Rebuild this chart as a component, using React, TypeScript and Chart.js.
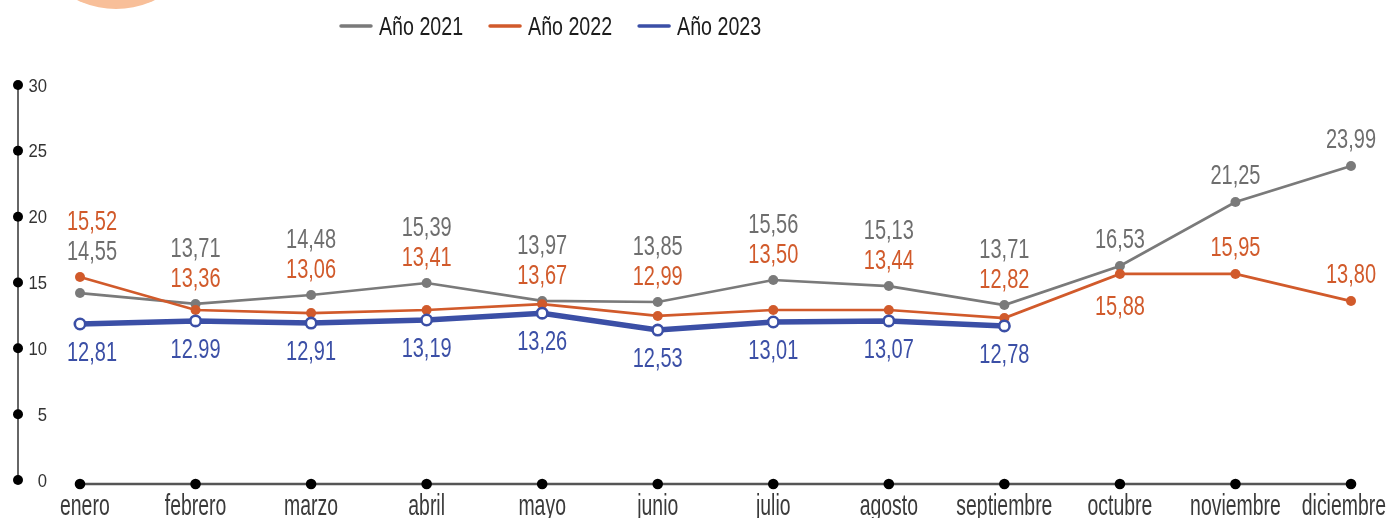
import React, { useEffect, useRef } from "react";
import { Chart, registerables } from "chart.js";

Chart.register(...registerables);

const months = ["enero", "febrero", "marzo", "abril", "mayo", "junio", "julio", "agosto", "septiembre", "octubre", "noviembre", "diciembre"];
const seriesNames = ["Año 2021", "Año 2022", "Año 2023"];

const values2021 = [14.2, 13.37, 14.05, 14.96, 13.6, 13.52, 15.19, 14.73, 13.29, 16.25, 21.11, 23.85];
const values2022 = [15.42, 12.91, 12.68, 12.91, 13.35, 12.46, 12.91, 12.91, 12.3, 15.65, 15.65, 13.59];
const values2023 = [11.85, 12.08, 11.92, 12.15, 12.67, 11.39, 12.0, 12.08, 11.7];

const labels2021 = ["14,55", "13,71", "14,48", "15,39", "13,97", "13,85", "15,56", "15,13", "13,71", "16,53", "21,25", "23,99"];
const labels2022 = ["15,52", "13,36", "13,06", "13,41", "13,67", "12,99", "13,50", "13,44", "12,82", "15,88", "15,95", "13,80"];
const labels2023 = ["12,81", "12.99", "12,91", "13,19", "13,26", "12,53", "13,01", "13,07", "12,78"];

// label placement: stack1 / stack2 = rows above the higher point of 2021/2022; own = above own point; below = under own point
const place2021 = ["stack1", "stack2", "stack2", "stack2", "stack2", "stack2", "stack2", "stack2", "stack2", "own", "own", "own"];
const place2022 = ["stack2", "stack1", "stack1", "stack1", "stack1", "stack1", "stack1", "stack1", "stack1", "below", "own", "own"];

const yTicks = [0, 5, 10, 15, 20, 25, 30];

const GREY = "#7a7a7a";
const ORANGE = "#d15a2b";
const BLUE = "#3b4fa6";
const PEACH = "#f8bf99";
const FONT = '"Liberation Sans", Arial, sans-serif';

function drawText(ctx: CanvasRenderingContext2D, text: string, x: number, y: number, size: number, color: string, xs: number, align: string) {
  ctx.save();
  ctx.font = `${size}px ${FONT}`;
  ctx.fillStyle = color;
  ctx.textAlign = "left";
  ctx.textBaseline = "alphabetic";
  const w = ctx.measureText(text).width * xs;
  const left = align === "center" ? x - w / 2 : align === "right" ? x - w : x;
  ctx.translate(left, y);
  ctx.scale(xs, 1);
  ctx.fillText(text, 0, 0);
  ctx.restore();
  return w;
}

function textW(ctx: CanvasRenderingContext2D, text: string, size: number, xs: number) {
  ctx.save();
  ctx.font = `${size}px ${FONT}`;
  const w = ctx.measureText(text).width * xs;
  ctx.restore();
  return w;
}

const customPlugin = {
  id: "customDraw",
  beforeDatasetsDraw(chart: any) {
    const ctx: CanvasRenderingContext2D = chart.ctx;
    const x = chart.scales.x;
    const y = chart.scales.y;
    const area = chart.chartArea;
    const W = chart.width;

    // decorative peach disc at top-left corner
    ctx.save();
    ctx.fillStyle = PEACH;
    ctx.beginPath();
    ctx.arc(116, -80, 89, 0, Math.PI * 2);
    ctx.fill();
    ctx.restore();

    // Y axis (detached, to the left)
    const axX = area.left - 62;
    ctx.save();
    ctx.strokeStyle = "#666";
    ctx.lineWidth = 2;
    ctx.beginPath();
    ctx.moveTo(axX, y.getPixelForValue(yTicks[yTicks.length - 1]));
    ctx.lineTo(axX, y.getPixelForValue(yTicks[0]));
    ctx.stroke();
    ctx.fillStyle = "#000";
    yTicks.forEach((t) => {
      const py = y.getPixelForValue(t);
      ctx.beginPath();
      ctx.arc(axX, py, 5, 0, Math.PI * 2);
      ctx.fill();
      drawText(ctx, String(t), axX + 29, py + 6.6, 18.5, "#333", 0.9, "right");
    });
    ctx.restore();

    // X axis line with dots
    const axY = area.bottom + 4;
    ctx.save();
    ctx.strokeStyle = "#555";
    ctx.lineWidth = 2.5;
    ctx.beginPath();
    ctx.moveTo(x.getPixelForValue(0), axY);
    ctx.lineTo(x.getPixelForValue(months.length - 1), axY);
    ctx.stroke();
    ctx.fillStyle = "#000";
    months.forEach((m, i) => {
      const px = x.getPixelForValue(i);
      ctx.beginPath();
      ctx.arc(px, axY, 5.3, 0, Math.PI * 2);
      ctx.fill();
      const w = textW(ctx, m, 29, 0.67);
      let cx = Math.max(px, area.left - 20 + w / 2);
      cx = Math.min(cx, W - 4 - w / 2);
      drawText(ctx, m, cx, axY + 31, 29, "#3a3a3a", 0.67, "center");
    });
    ctx.restore();

    // Legend
    const colors = [GREY, ORANGE, BLUE];
    let lx = 340;
    const ly = 26;
    seriesNames.forEach((name, i) => {
      ctx.save();
      ctx.strokeStyle = colors[i];
      ctx.lineWidth = 3.5;
      ctx.lineCap = "round";
      ctx.beginPath();
      ctx.moveTo(lx + 1, ly);
      ctx.lineTo(lx + 31, ly);
      ctx.stroke();
      ctx.restore();
      const w = drawText(ctx, name, lx + 39, ly + 9.3, 26, "#1c1c1c", 0.755, "left");
      lx = lx + 39 + w + 26;
    });
  },
  afterDatasetsDraw(chart: any) {
    const ctx: CanvasRenderingContext2D = chart.ctx;
    const x = chart.scales.x;
    const y = chart.scales.y;
    const area = chart.chartArea;
    const W = chart.width;
    const size = 27;
    const xs = 0.74;
    const half = (size * 0.716) / 2;
    const minLeft = area.left - 13;

    const put = (text: string, px: number, cy: number, color: string) => {
      const w = textW(ctx, text, size, xs);
      let cx = Math.max(px, minLeft + w / 2);
      cx = Math.min(cx, W - 4 - w / 2);
      drawText(ctx, text, cx, cy + half, size, color, xs, "center");
    };

    months.forEach((_, i) => {
      const p1 = y.getPixelForValue(values2021[i]);
      const p2 = y.getPixelForValue(values2022[i]);
      const top = Math.min(p1, p2);
      const px = x.getPixelForValue(i);
      const pos = (place: string, own: number) =>
        place === "stack1" ? top - 27 : place === "stack2" ? top - 57 : place === "below" ? own + 31 : own - 28;
      put(labels2021[i], px, pos(place2021[i], p1), "#6e6e6e");
      put(labels2022[i], px, pos(place2022[i], p2), ORANGE);
    });
    values2023.forEach((v, i) => {
      const px = x.getPixelForValue(i);
      put(labels2023[i], px, y.getPixelForValue(v) + 27, BLUE);
    });
  },
};

export default function App() {
  const ref = useRef<HTMLCanvasElement | null>(null);
  useEffect(() => {
    if (!ref.current) return;
    const chart = new Chart(ref.current, {
      type: "line",
      data: {
        labels: months,
        datasets: [
          {
            label: seriesNames[0],
            data: values2021,
            borderColor: GREY,
            backgroundColor: GREY,
            borderWidth: 2.7,
            pointRadius: 5,
            pointBackgroundColor: GREY,
            pointBorderColor: GREY,
            pointBorderWidth: 0,
            tension: 0,
            clip: false,
            order: 3,
          },
          {
            label: seriesNames[1],
            data: values2022,
            borderColor: ORANGE,
            backgroundColor: ORANGE,
            borderWidth: 2.7,
            pointRadius: 5,
            pointBackgroundColor: ORANGE,
            pointBorderColor: ORANGE,
            pointBorderWidth: 0,
            tension: 0,
            clip: false,
            order: 2,
          },
          {
            label: seriesNames[2],
            data: values2023,
            borderColor: BLUE,
            backgroundColor: BLUE,
            borderWidth: 5.5,
            pointRadius: 5.2,
            pointBackgroundColor: "#ffffff",
            pointBorderColor: BLUE,
            pointBorderWidth: 2.6,
            tension: 0,
            clip: false,
            order: 1,
          },
        ],
      },
      options: {
        responsive: false,
        animation: false,
        layout: { padding: { left: 80, right: 39, top: 85, bottom: 38 } },
        plugins: { legend: { display: false }, tooltip: { enabled: false } },
        scales: {
          x: { display: false, offset: false },
          y: { display: false, min: 0, max: 30 },
        },
      },
      plugins: [customPlugin],
    });
    return () => chart.destroy();
  }, []);

  return (
    <div style={{ position: "fixed", left: 0, top: 0, width: 1390, height: 518 }}>
      <canvas ref={ref} width={1390} height={518} style={{ display: "block", width: 1390, height: 518 }} />
    </div>
  );
}
